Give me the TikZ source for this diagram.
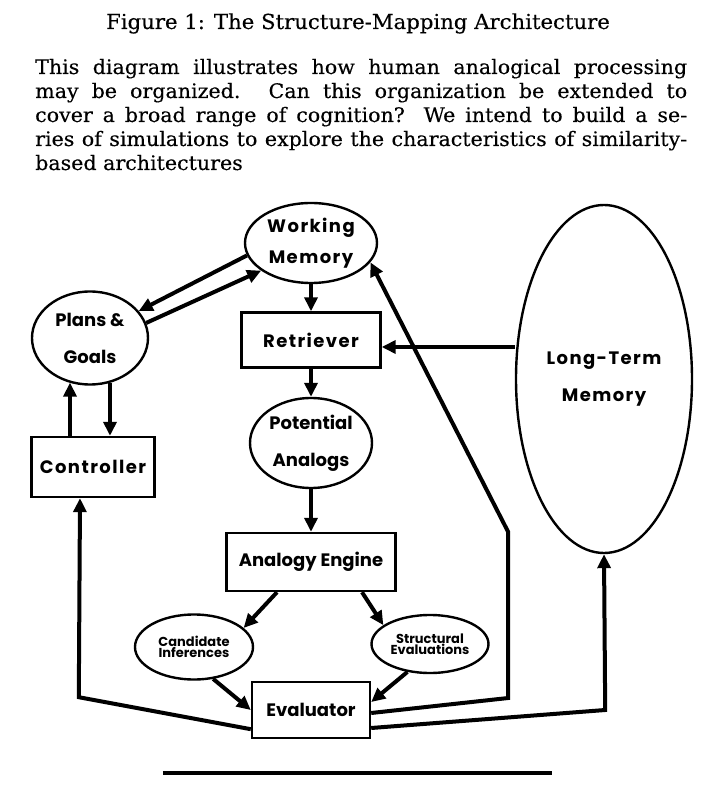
\documentclass[tikz,border=0pt]{standalone}
\usepackage{fontspec}
\newfontfamily\capfont{DejaVu Serif}[FakeStretch=1.03,FakeBold=0.3]
\newfontfamily\diafont{Poppins}
\newfontfamily\diawide{Poppins}[LetterSpace=8]
\usetikzlibrary{arrows.meta}
\usetikzlibrary{positioning}
\usetikzlibrary{shapes.geometric}

\begin{document}
\begin{tikzpicture}[->,>={Triangle[length=7pt,width=6.5pt]},line width=2pt,
                    every node/.append style={on grid,inner sep=0pt,line width=1.2pt,
                      font=\diafont\bfseries\fontsize{9}{18.5}\selectfont},
                    oval/.style={ellipse,draw,align=center},
                    box/.style={rectangle,draw,align=center},
                    wide/.style={font=\diawide\bfseries\fontsize{9}{18.5}\selectfont},
                    small/.style={font=\diafont\bfseries\fontsize{6.5}{5.5}\selectfont}]

\useasboundingbox (-155.5pt,121.5pt) rectangle (194.5pt,-284.5pt);

\node [font=\capfont\fontsize{10.3}{12}\selectfont,anchor=base] (title) at (23.5pt,107pt)
      {Figure 1: The Structure-Mapping Architecture};
\node [font=\capfont\fontsize{10}{12}\selectfont,anchor=base west,text width=326pt,align=justify]
      (caption) at (-138.5pt,84.5pt)
      {This diagram illustrates how human analogical processing\linebreak
       may be organized.  Can this organization be extended to\linebreak
       cover a broad range of cognition?  We intend to build a se-\linebreak
       ries of simulations to explore the characteristics of \mbox{similarity-}\linebreak
       based architectures};

\node [oval,wide,font=\diawide\bfseries\fontsize{9}{15.5}\selectfont,minimum width=66pt,minimum height=40pt]
      (wm) at (0,0) {Working\\Memory};
\node [box,wide,minimum width=69.5pt,minimum height=27.5pt,below=48.5pt of wm] (ret) {Retriever};
\node [oval,minimum width=61pt,minimum height=45pt,below=51.5pt of ret] (pot) {Potential\\Analogs};
\node [box,minimum width=84.5pt,minimum height=29pt,below=59.5pt of pot] (eng) {Analogy Engine};
\node [box,minimum width=59pt,minimum height=28pt,below=74pt of eng] (eval) {Evaluator};
\node [oval,small,minimum width=59pt,minimum height=32.5pt,below left=42.5pt and 58.5pt of eng] (cand)
      {Candidate\\Inferences};
\node [oval,small,minimum width=58.5pt,minimum height=29pt,below right=41pt and 59.5pt of eng] (struct)
      {Structural\\Evaluations};
\node [oval,minimum width=58pt,minimum height=46.5pt,below left=47.5pt and 110.5pt of wm] (plans)
      {Plans \&\\Goals};
\node [box,wide,minimum width=61.5pt,minimum height=30pt,below=64.5pt of plans,xshift=1.5pt] (ctrl)
      {Controller};
\node [oval,wide,minimum width=88pt,minimum height=174pt,below right=68pt and 146.5pt of wm] (ltm)
      {Long-Term\\Memory};

\draw (wm.191) -- (plans.29);
\draw (plans.15) -- (wm.209);
\draw ([xshift=-11.5pt]ctrl.north) -- ([xshift=-11.5pt]ctrl.north |- plans.245);
\draw ([xshift=8.5pt]ctrl.north |- plans.295) -- ([xshift=8.5pt]ctrl.north);
\draw (wm) edge (ret)
      (ret) edge (pot)
      (pot) edge (eng);
\draw ([yshift=-3.5pt]ret.east -| ltm.west) -- ([yshift=-3.5pt]ret.east);
\draw ([xshift=-17pt]eng.south) -- (cand.21);
\draw ([xshift=25.5pt]eng.south) -- (struct.158);
\draw (cand.301) -- (eval.west);
\draw (struct.231) -- ([yshift=4pt]eval.east);
\draw ([yshift=5pt]eval.south west) -- ++(-86pt,16pt) -- ([xshift=-6.5pt]ctrl.south);
\draw ([yshift=-1.5pt]eval.east) -- ++(68.5pt,7.5pt) -- ++(0,83pt) -- (wm.342);
\draw ([yshift=-9pt]eval.east) -- ++(117pt,9pt) -- (ltm.south);

\draw [-] (-74pt,-265pt) -- (120.5pt,-265pt);

\end{tikzpicture}
\end{document}
